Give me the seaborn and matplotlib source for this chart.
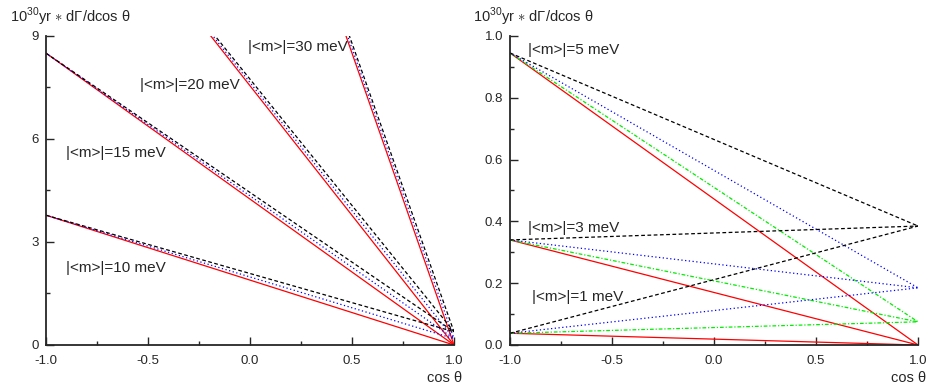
import numpy as np
import pandas as pd
import matplotlib
matplotlib.use("Agg")
import matplotlib.pyplot as plt
import seaborn as sns
from matplotlib.ticker import MultipleLocator

# data: lines are straight in cos(theta), values read at the two ends
cos_ends = [-1.0, 1.0]
masses_left = [10, 15, 20, 30]          # meV
start_left = [3.78, 8.5, 15.1, 34.0]     # value at cos = -1
masses_right = [1, 3, 5]
start_right = [0.038, 0.34, 0.945]
kinds_left = ["red", "blue", "black"]
kinds_right = ["red", "green", "blue", "black"]
end_vals = {"red": 0.0, "green": 0.075, "blue": 0.185, "black": 0.385}  # value at cos = +1

labels_left = ["|<m>|=10 meV", "|<m>|=15 meV", "|<m>|=20 meV", "|<m>|=30 meV"]
label_pos_left = [(-0.90, 2.24), (-0.90, 5.59), (-0.54, 7.57), (-0.01, 8.68)]
labels_right = ["|<m>|=1 meV", "|<m>|=3 meV", "|<m>|=5 meV"]
label_pos_right = [(-0.89, 0.155), (-0.91, 0.379), (-0.91, 0.955)]

colors = {"red": "#ff0000", "green": "#00ee00", "blue": "#0000ff", "black": "#000000"}
dashes = {"red": "", "green": (3, 1.5, 1, 1.5), "blue": (1, 2), "black": (3, 2)}


def build(masses, starts, kinds):
    rows = []
    for m, s in zip(masses, starts):
        for k in kinds:
            rows.append((m, k, cos_ends[0], s))
            rows.append((m, k, cos_ends[1], end_vals[k]))
    return pd.DataFrame(rows, columns=["mass", "kind", "cos", "val"])


sns.set_style("ticks")
plt.rcParams["font.family"] = ["Liberation Sans", "DejaVu Sans"]
plt.rcParams["mathtext.fontset"] = "custom"
plt.rcParams["mathtext.rm"] = "Liberation Sans"
plt.rcParams["xtick.direction"] = "in"
plt.rcParams["ytick.direction"] = "in"

fig = plt.figure(figsize=(9.29, 3.92), dpi=100)
ax1 = fig.add_axes([0.0495, 0.1199, 0.4392, 0.7883])
ax2 = fig.add_axes([0.549, 0.1199, 0.4392, 0.7883])

panels = [
    (ax1, build(masses_left, start_left, kinds_left), kinds_left, 9, 3, 1.5, "%d",
     labels_left, label_pos_left),
    (ax2, build(masses_right, start_right, kinds_right), kinds_right, 1.0, 0.2, 0.1, "%.1f",
     labels_right, label_pos_right),
]

for ax, df, kinds, ymax, ymaj, ymin, fmt, labs, pos in panels:
    sns.lineplot(data=df, x="cos", y="val", hue="kind", style="kind", units="mass",
                 estimator=None, hue_order=kinds, style_order=kinds,
                 palette=colors, dashes=dashes, linewidth=0.9, legend=False, ax=ax)
    ax.set_xlim(-1, 1)
    ax.set_ylim(0, ymax)
    ax.xaxis.set_major_locator(MultipleLocator(0.5))
    ax.xaxis.set_minor_locator(MultipleLocator(0.25))
    ax.yaxis.set_major_locator(MultipleLocator(ymaj))
    ax.yaxis.set_minor_locator(MultipleLocator(ymin))
    ax.xaxis.set_major_formatter(matplotlib.ticker.FormatStrFormatter("%.1f"))
    ax.yaxis.set_major_formatter(matplotlib.ticker.FormatStrFormatter(fmt))
    ax.tick_params(which="major", length=6, width=1.0, labelsize=9.5)
    ax.tick_params(axis="x", which="major", pad=7)
    ax.tick_params(axis="y", which="major", pad=5)
    ax.tick_params(which="minor", length=3, width=1.0)
    for side in ["top", "right"]:
        ax.spines[side].set_visible(False)
    for side in ["left", "bottom"]:
        ax.spines[side].set_linewidth(1.3)
    ax.set_xlabel("")
    ax.set_ylabel("")
    for t, (x, y) in zip(labs, pos):
        ax.text(x, y, t, fontsize=11, va="center", ha="left")

ylab = r"10$^{\mathrm{30}}$yr $\ast$ dΓ/dcos θ"
fig.text(0.011, 0.957, ylab, fontsize=10.5, va="center", ha="left")
fig.text(0.509, 0.957, ylab, fontsize=10.5, va="center", ha="left")
fig.text(0.497, 0.036, "cos θ", fontsize=10.5, va="center", ha="right")
fig.text(0.997, 0.036, "cos θ", fontsize=10.5, va="center", ha="right")

fig.savefig("out.png", dpi=100)
